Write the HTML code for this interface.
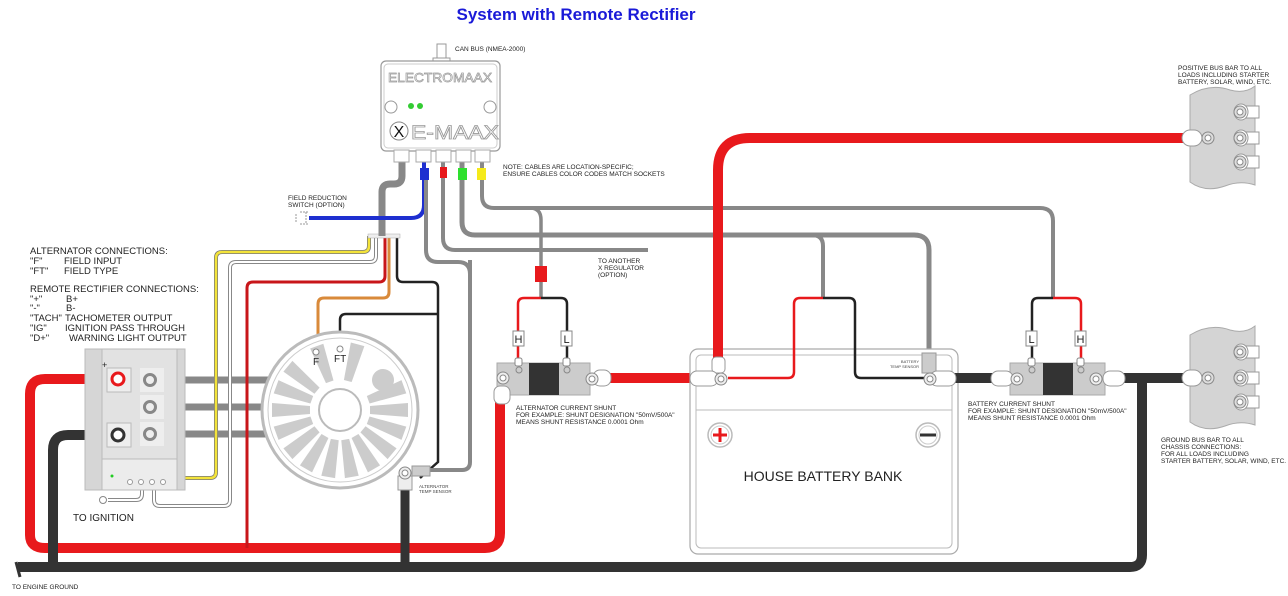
<!DOCTYPE html>
<html><head><meta charset="utf-8"><style>
html,body{margin:0;padding:0;background:#fff;}
svg{display:block;font-family:"Liberation Sans",sans-serif;}
</style></head><body>
<svg width="1288" height="596" viewBox="0 0 1288 596" xmlns="http://www.w3.org/2000/svg">
<rect width="1288" height="596" fill="#fff"/>
<text x="576" y="20" text-anchor="middle" font-size="17" font-weight="bold" fill="#1a1ad8">System with Remote Rectifier</text>

<path d="M18 567 L1130 567 Q1142 567 1142 555 L1142 378" stroke="#333" stroke-width="10" fill="none"/>
<path d="M16 562 L20 577" stroke="#333" stroke-width="3"/>
<path d="M118 379 L45 379 Q30 379 30 394 L30 535 Q30 548 45 548 L485 548 Q500 548 500 533 L500 392" stroke="#e8191c" stroke-width="10" fill="none"/>
<path d="M118 435 L68 435 Q53 435 53 450 L53 567" stroke="#333" stroke-width="10" fill="none"/>
<path d="M405 485 L405 567" stroke="#333" stroke-width="9" fill="none"/>

<g stroke="#888" stroke-width="7"><line x1="150" y1="380" x2="272" y2="380"/><line x1="150" y1="407" x2="268" y2="407"/><line x1="150" y1="434" x2="272" y2="434"/></g>

<path d="M369 236 L369 246 Q369 252 363 252 L222 252 Q216 252 216 258 L216 472 Q216 478 210 478 L162 478" stroke="#777" stroke-width="4" fill="none"/>
<path d="M369 236 L369 246 Q369 252 363 252 L222 252 Q216 252 216 258 L216 472 Q216 478 210 478 L162 478" stroke="#f3e33a" stroke-width="2.5" fill="none"/>
<path d="M376 236 L376 256 Q376 262 370 262 L236 262 Q230 262 230 268 L230 500 Q230 506 224 506 L160 506 Q154 506 154 500 L154 480" stroke="#888" stroke-width="4" fill="none"/>
<path d="M376 236 L376 256 Q376 262 370 262 L236 262 Q230 262 230 268 L230 500 Q230 506 224 506 L160 506 Q154 506 154 500 L154 480" stroke="#fff" stroke-width="2" fill="none"/>
<path d="M142 480 L142 494 Q142 500 136 500 L108 500" stroke="#888" stroke-width="4" fill="none"/>
<path d="M142 480 L142 494 Q142 500 136 500 L108 500" stroke="#fff" stroke-width="2" fill="none"/>
<circle cx="103" cy="500" r="3.5" fill="#fff" stroke="#888"/>
<text x="73" y="521" font-size="10" fill="#222">TO IGNITION</text>
<path d="M385 236 L385 276 Q385 282 379 282 L253 282 Q247 282 247 288 L247 548" stroke="#c8161a" stroke-width="3" fill="none"/>
<path d="M389 236 L389 292 Q389 298 383 298 L324 298 Q318 298 318 304 L318 350" stroke="#d98a3a" stroke-width="3" fill="none"/>
<path d="M397 236 L397 276 Q397 282 403 282 L432 282 Q438 282 438 288 L438 462 L420 478" stroke="#222" stroke-width="2.5" fill="none"/>
<path d="M438 314 L346 314 Q340 314 340 320 L340 348" stroke="#222" stroke-width="2.5" fill="none"/>
<rect x="368" y="234" width="32" height="4" fill="#eee" stroke="#aaa" stroke-width="0.5"/>

<!-- alternator -->
<circle cx="340" cy="410" r="78" fill="#fff" stroke="#bbb" stroke-width="3"/>
<circle cx="340" cy="410" r="72" fill="#fff" stroke="#ccc" stroke-width="1"/>
<g fill="#ccc">
<g id="sl"><path d="M370 406 L408 403 L408 417 L370 414 Z"/></g>
<use href="#sl" transform="rotate(20 340 410)"/><use href="#sl" transform="rotate(40 340 410)"/><use href="#sl" transform="rotate(60 340 410)"/><use href="#sl" transform="rotate(80 340 410)"/><use href="#sl" transform="rotate(100 340 410)"/><use href="#sl" transform="rotate(120 340 410)"/><use href="#sl" transform="rotate(140 340 410)"/><use href="#sl" transform="rotate(160 340 410)"/><use href="#sl" transform="rotate(180 340 410)"/><use href="#sl" transform="rotate(200 340 410)"/><use href="#sl" transform="rotate(220 340 410)"/><use href="#sl" transform="rotate(250 340 410)"/><use href="#sl" transform="rotate(285 340 410)"/><use href="#sl" transform="rotate(340 340 410)"/>
<circle cx="383" cy="380" r="11"/>
</g>
<circle cx="340" cy="410" r="21" fill="#fff" stroke="#bbb" stroke-width="2"/>
<circle cx="316" cy="352" r="3" fill="#fff" stroke="#888"/><circle cx="340" cy="349" r="3" fill="#fff" stroke="#888"/>
<text x="313" y="365" font-size="10" fill="#222">F</text><text x="334" y="362" font-size="10" fill="#222">FT</text>

<path d="M470 260 L470 462 Q470 470 462 470 L430 470" stroke="#888" stroke-width="4" fill="none"/>
<rect x="412" y="466" width="18" height="10" fill="#ccc" stroke="#999"/>
<rect x="398" y="476" width="14" height="14" fill="#eee" stroke="#999"/>
<circle cx="405" cy="473" r="6" fill="#eee" stroke="#888"/><circle cx="405" cy="473" r="3" fill="#fff" stroke="#888"/>
<text x="419" y="488" font-size="4.5" fill="#444">ALTERNATOR</text><text x="419" y="493" font-size="4.5" fill="#444">TEMP SENSOR</text>

<!-- rectifier -->
<rect x="85" y="349" width="100" height="141" fill="#d6d6d6" stroke="#bbb"/>
<rect x="102" y="349" width="75" height="110" fill="#e2e2e2" stroke="#bbb"/>
<rect x="102" y="459" width="75" height="31" fill="#ececec" stroke="#bbb"/>
<rect x="107" y="368" width="24" height="24" fill="#eee" stroke="#bbb"/>
<rect x="107" y="423" width="24" height="24" fill="#eee" stroke="#bbb"/>
<rect x="140" y="368" width="24" height="24" fill="#eee"/><rect x="140" y="395" width="24" height="24" fill="#eee"/><rect x="140" y="422" width="24" height="24" fill="#eee"/>
<circle cx="118" cy="379" r="6" fill="#fff" stroke="#e8191c" stroke-width="3"/>
<circle cx="118" cy="435" r="6" fill="#fff" stroke="#333" stroke-width="3"/>
<g fill="#eee" stroke="#888" stroke-width="3"><circle cx="150" cy="380" r="5.5"/><circle cx="150" cy="407" r="5.5"/><circle cx="150" cy="434" r="5.5"/></g>
<text x="102" y="368" font-size="9" fill="#222">+</text>
<circle cx="112" cy="476" r="1.5" fill="#2c2"/>
<g fill="#fff" stroke="#999"><circle cx="130" cy="482" r="2.5"/><circle cx="141" cy="482" r="2.5"/><circle cx="152" cy="482" r="2.5"/><circle cx="163" cy="482" r="2.5"/></g>

<text font-size="9.5" fill="#222"><tspan x="30" y="254">ALTERNATOR CONNECTIONS:</tspan><tspan x="30" y="264">"F"</tspan><tspan x="64" y="264">FIELD INPUT</tspan><tspan x="30" y="274">"FT"</tspan><tspan x="64" y="274">FIELD TYPE</tspan><tspan x="30" y="292">REMOTE RECTIFIER CONNECTIONS:</tspan><tspan x="30" y="302">"+"</tspan><tspan x="66" y="302">B+</tspan><tspan x="30" y="311">"-"</tspan><tspan x="66" y="311">B-</tspan><tspan x="30" y="321">"TACH"</tspan><tspan x="65" y="321">TACHOMETER OUTPUT</tspan><tspan x="30" y="331">"IG"</tspan><tspan x="65" y="331">IGNITION PASS THROUGH</tspan><tspan x="30" y="341">"D+"</tspan><tspan x="69" y="341">WARNING LIGHT OUTPUT</tspan></text>
<text x="12" y="589" font-size="6.5" fill="#222">TO ENGINE GROUND</text>

<!-- regulator cables -->
<path d="M402 160 L402 176 Q402 184 394 184 L390 184 Q382 184 382 192 L382 236" stroke="#888" stroke-width="7" fill="none"/>
<path d="M424 160 L424 205 Q424 218 411 218 L309 218" stroke="#1e2fd0" stroke-width="4" fill="none"/>
<rect x="420" y="168" width="9" height="12" fill="#1e2fd0"/>
<path d="M426 180 L426 250 Q426 262 438 262 L458 262 Q470 262 470 274" stroke="#888" stroke-width="4" fill="none"/>
<path d="M443 160 L443 238 Q443 250 455 250 L648 250" stroke="#888" stroke-width="4" fill="none"/>
<rect x="440" y="167" width="7" height="11" fill="#e8191c"/>
<path d="M462 160 L462 222 Q462 235 475 235 L914 235 Q929 235 929 250 L929 355" stroke="#888" stroke-width="5" fill="none"/>
<path d="M812 235 Q823 235 823 246 L823 298" stroke="#888" stroke-width="4" fill="none"/>
<rect x="458" y="168" width="9" height="12" fill="#2ee02e"/>
<path d="M482 160 L482 196 Q482 208 494 208 L1040 208 Q1053 208 1053 221 L1053 298" stroke="#888" stroke-width="4" fill="none"/>
<path d="M530 208 Q541 208 541 220 L541 298" stroke="#888" stroke-width="3.5" fill="none"/>
<rect x="477" y="168" width="9" height="12" fill="#f5ea1a"/>
<rect x="535" y="266" width="12" height="16" fill="#e8191c"/>
<text font-size="6.5" fill="#222"><tspan x="503" y="169">NOTE: CABLES ARE LOCATION-SPECIFIC;</tspan><tspan x="503" y="176">ENSURE CABLES COLOR CODES MATCH SOCKETS</tspan></text>
<text font-size="6.5" fill="#222"><tspan x="598" y="263">TO ANOTHER</tspan><tspan x="598" y="270">X REGULATOR</tspan><tspan x="598" y="277">(OPTION)</tspan></text>
<text font-size="6.5" fill="#222"><tspan x="288" y="200">FIELD REDUCTION</tspan><tspan x="288" y="207">SWITCH (OPTION)</tspan></text>
<path d="M300 212 L308 212 M306 212 L306 224 M296 214 L296 222 M300 224 L308 224" stroke="#999" stroke-width="1" fill="none" stroke-dasharray="2 1"/>

<!-- regulator -->
<rect x="437" y="44" width="9" height="16" fill="#fff" stroke="#999"/>
<rect x="433" y="58" width="17" height="3" fill="#fff" stroke="#999"/>
<text x="455" y="51" font-size="6.5" fill="#222">CAN BUS (NMEA-2000)</text>
<rect x="381" y="61" width="119" height="90" rx="5" fill="#fff" stroke="#999" stroke-width="1.2"/>
<rect x="384" y="64" width="113" height="84" rx="4" fill="none" stroke="#ccc"/>
<circle cx="391" cy="107" r="6" fill="none" stroke="#999"/><circle cx="490" cy="107" r="6" fill="none" stroke="#999"/>
<text x="440" y="82" text-anchor="middle" font-size="13" fill="#fff" stroke="#999" stroke-width="0.7" textLength="104" lengthAdjust="spacingAndGlyphs">ELECTROMAAX</text>
<circle cx="411" cy="106" r="3" fill="#3c3"/><circle cx="420" cy="106" r="3" fill="#3c3"/>
<circle cx="399" cy="131" r="9" fill="#fff" stroke="#888"/>
<text x="399" y="137" text-anchor="middle" font-size="16" fill="#111">X</text>
<text x="455" y="139" text-anchor="middle" font-size="19" fill="#fff" stroke="#999" stroke-width="0.8" textLength="88" lengthAdjust="spacingAndGlyphs">E-MAAX</text>
<g fill="#fff" stroke="#aaa"><rect x="394" y="150" width="15" height="12"/><rect x="416" y="150" width="15" height="12"/><rect x="436" y="150" width="15" height="12"/><rect x="456" y="150" width="15" height="12"/><rect x="475" y="150" width="15" height="12"/></g>

<!-- left shunt -->
<path d="M541 298 L524 298 Q518 298 518 304 L518 360" stroke="#e8191c" stroke-width="2.5" fill="none"/>
<path d="M541 298 L561 298 Q567 298 567 304 L567 360" stroke="#222" stroke-width="2.5" fill="none"/>
<rect x="513" y="331" width="11" height="15" fill="#fff" stroke="#888"/><text x="518.5" y="343" text-anchor="middle" font-size="11" fill="#222">H</text>
<rect x="561" y="331" width="11" height="15" fill="#fff" stroke="#888"/><text x="566.5" y="343" text-anchor="middle" font-size="11" fill="#222">L</text>
<rect x="497" y="363" width="93" height="32" fill="#ccc" stroke="#aaa"/>
<rect x="529" y="363" width="30" height="32" fill="#333"/>
<circle cx="519" cy="370" r="3" fill="#ccc" stroke="#888"/><circle cx="567" cy="370" r="3" fill="#ccc" stroke="#888"/>
<rect x="515" y="358" width="7" height="8" rx="2" fill="#fff" stroke="#888"/><rect x="563" y="358" width="7" height="8" rx="2" fill="#fff" stroke="#888"/>
<path d="M602 378 L697 378" stroke="#e8191c" stroke-width="10"/>
<rect x="593" y="370" width="18" height="16" rx="7" fill="#fff" stroke="#999"/>
<circle cx="592" cy="379" r="6" fill="#eee" stroke="#888"/><circle cx="592" cy="379" r="3" fill="#fff" stroke="#888"/>
<rect x="494" y="386" width="16" height="18" rx="6" fill="#fff" stroke="#999"/>
<circle cx="503" cy="378" r="6" fill="#eee" stroke="#888"/><circle cx="503" cy="378" r="3" fill="#fff" stroke="#888"/>
<text font-size="6.5" fill="#222"><tspan x="516" y="410">ALTERNATOR CURRENT SHUNT</tspan><tspan x="516" y="417">FOR EXAMPLE: SHUNT DESIGNATION "50mV/500A"</tspan><tspan x="516" y="424">MEANS SHUNT RESISTANCE 0.0001 Ohm</tspan></text>

<!-- battery -->
<rect x="690" y="349" width="268" height="205" rx="8" fill="#fff" stroke="#aaa" stroke-width="1.2"/>
<rect x="696" y="355" width="256" height="193" rx="5" fill="none" stroke="#bbb"/>
<line x1="696" y1="410" x2="952" y2="410" stroke="#bbb"/>
<circle cx="720" cy="435" r="12" fill="#fff" stroke="#bbb" stroke-width="1.5"/><circle cx="720" cy="435" r="9" fill="none" stroke="#ccc"/>
<path d="M713 435 H727 M720 428 V442" stroke="#e8191c" stroke-width="3"/>
<circle cx="928" cy="435" r="12" fill="#fff" stroke="#bbb" stroke-width="1.5"/><circle cx="928" cy="435" r="9" fill="none" stroke="#ccc"/>
<path d="M920 435 H936" stroke="#333" stroke-width="3"/>
<text x="823" y="481" text-anchor="middle" font-size="14" fill="#222">HOUSE BATTERY BANK</text>
<path d="M718 365 L718 170 Q718 138 750 138 L1190 138" stroke="#e8191c" stroke-width="10" fill="none"/>
<rect x="712" y="357" width="13" height="16" rx="4" fill="#fff" stroke="#999"/>
<rect x="690" y="371" width="28" height="15" rx="7" fill="#fff" stroke="#999"/>
<circle cx="721" cy="379" r="6" fill="#eee" stroke="#888"/><circle cx="721" cy="379" r="3" fill="#fff" stroke="#888"/>
<path d="M823 298 L800 298 Q794 298 794 304 L794 372 Q794 378 788 378 L728 378" stroke="#e8191c" stroke-width="2.5" fill="none"/>
<path d="M823 298 L849 298 Q855 298 855 304 L855 372 Q855 378 861 378 L925 378" stroke="#222" stroke-width="2.5" fill="none"/>
<path d="M935 378 L1000 378" stroke="#333" stroke-width="10"/>
<rect x="922" y="353" width="14" height="20" fill="#ccc" stroke="#999"/>
<rect x="930" y="371" width="26" height="15" rx="7" fill="#fff" stroke="#999"/>
<circle cx="930" cy="379" r="6" fill="#eee" stroke="#888"/><circle cx="930" cy="379" r="3" fill="#fff" stroke="#888"/>
<text font-size="4" fill="#444" text-anchor="end"><tspan x="919" y="363">BATTERY</tspan><tspan x="919" y="368">TEMP SENSOR</tspan></text>

<!-- right shunt -->
<path d="M1053 298 L1038 298 Q1032 298 1032 304 L1032 360" stroke="#222" stroke-width="2.5" fill="none"/>
<path d="M1053 298 L1075 298 Q1081 298 1081 304 L1081 360" stroke="#e8191c" stroke-width="2.5" fill="none"/>
<rect x="1026" y="331" width="11" height="15" fill="#fff" stroke="#888"/><text x="1031.5" y="343" text-anchor="middle" font-size="11" fill="#222">L</text>
<rect x="1075" y="331" width="11" height="15" fill="#fff" stroke="#888"/><text x="1080.5" y="343" text-anchor="middle" font-size="11" fill="#222">H</text>
<rect x="1010" y="363" width="95" height="32" fill="#ccc" stroke="#aaa"/>
<rect x="1043" y="363" width="30" height="32" fill="#333"/>
<circle cx="1032" cy="370" r="3" fill="#ccc" stroke="#888"/><circle cx="1081" cy="370" r="3" fill="#ccc" stroke="#888"/>
<rect x="1028" y="358" width="7" height="8" rx="2" fill="#fff" stroke="#888"/><rect x="1077" y="358" width="7" height="8" rx="2" fill="#fff" stroke="#888"/>
<rect x="991" y="371" width="22" height="15" rx="7" fill="#fff" stroke="#999"/>
<circle cx="1017" cy="379" r="6" fill="#eee" stroke="#888"/><circle cx="1017" cy="379" r="3" fill="#fff" stroke="#888"/>
<path d="M1115 378 L1185 378" stroke="#333" stroke-width="10"/>
<rect x="1103" y="371" width="22" height="15" rx="7" fill="#fff" stroke="#999"/>
<circle cx="1096" cy="379" r="6" fill="#eee" stroke="#888"/><circle cx="1096" cy="379" r="3" fill="#fff" stroke="#888"/>
<text font-size="6.5" fill="#222"><tspan x="968" y="406">BATTERY CURRENT SHUNT</tspan><tspan x="968" y="413">FOR EXAMPLE: SHUNT DESIGNATION "50mV/500A"</tspan><tspan x="968" y="420">MEANS SHUNT RESISTANCE 0.0001 Ohm</tspan></text>

<!-- bus bars -->
<g id="bb">
<path d="M1190 95 Q1210 83 1230 90 Q1245 94 1255 86 L1255 185 Q1240 180 1225 186 Q1205 193 1190 182 Z" fill="#d4d4d4" stroke="#aaa"/>
<g fill="#fff" stroke="#999"><rect x="1182" y="130" width="20" height="16" rx="8"/>
<rect x="1245" y="106" width="14" height="12"/><rect x="1245" y="132" width="14" height="12"/><rect x="1245" y="156" width="14" height="12"/>
<rect x="1234" y="104" width="14" height="16" rx="8"/><rect x="1234" y="130" width="14" height="16" rx="8"/><rect x="1234" y="154" width="14" height="16" rx="8"/></g>
<g fill="#ddd" stroke="#888"><circle cx="1208" cy="138" r="6"/><circle cx="1240" cy="112" r="6"/><circle cx="1240" cy="138" r="6"/><circle cx="1240" cy="162" r="6"/></g>
<g fill="#fff" stroke="#888"><circle cx="1208" cy="138" r="3"/><circle cx="1240" cy="112" r="3"/><circle cx="1240" cy="138" r="3"/><circle cx="1240" cy="162" r="3"/></g>
</g>
<use href="#bb" transform="translate(0,240)"/>
<text font-size="6.5" fill="#222"><tspan x="1178" y="70">POSITIVE BUS BAR TO ALL</tspan><tspan x="1178" y="77">LOADS INCLUDING STARTER</tspan><tspan x="1178" y="84">BATTERY, SOLAR, WIND, ETC.</tspan></text>
<text font-size="6.5" fill="#222"><tspan x="1161" y="442">GROUND BUS BAR TO ALL</tspan><tspan x="1161" y="449">CHASSIS CONNECTIONS:</tspan><tspan x="1161" y="456">FOR ALL LOADS INCLUDING</tspan><tspan x="1161" y="463">STARTER BATTERY, SOLAR, WIND, ETC.</tspan></text>
</svg>
</body></html>
